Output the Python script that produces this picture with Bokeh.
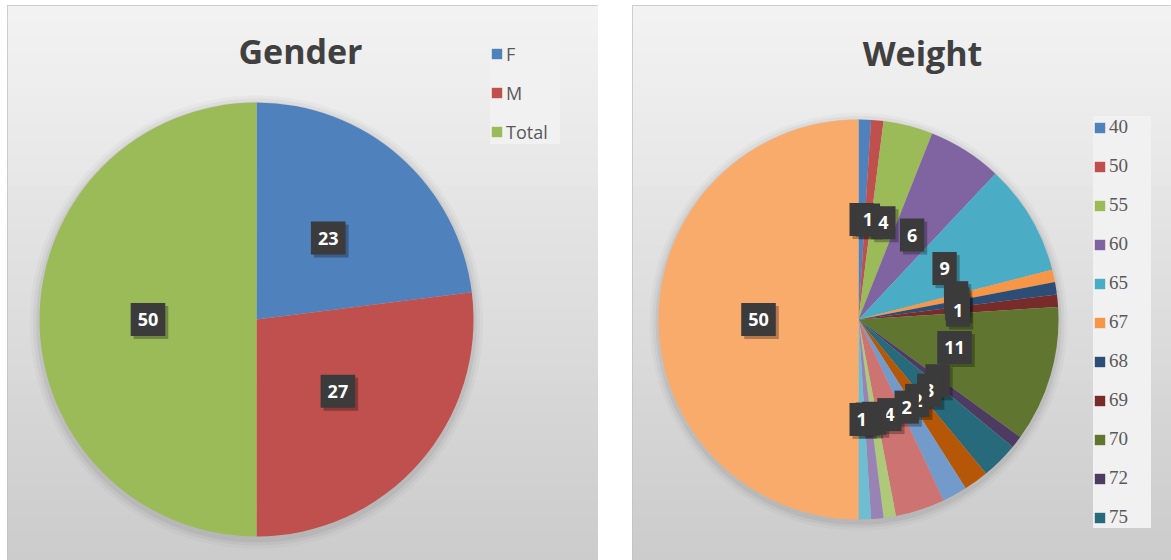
import numpy as np
from bokeh.plotting import figure
from bokeh.models import ColumnDataSource, Legend, LegendItem, Label, Range1d, BoxAnnotation
from bokeh.layouts import row
from bokeh.embed import file_html
from bokeh.resources import INLINE
from bokeh.core.properties import value

# ---------------- data ----------------
gender_labels = ["F", "M", "Total"]
gender_values = [23, 27, 50]
gender_colors = ["#4F81BD", "#C0504D", "#9BBB59"]

weight_labels = ["40", "50", "55", "60", "65", "67", "68", "69", "70", "72", "75",
                 "78", "80", "85", "90", "95", "100", "Total"]
weight_values = [1, 1, 4, 6, 9, 1, 1, 1, 11, 1, 3, 2, 2, 4, 1, 1, 1, 50]
weight_colors = ["#4F81BD", "#C0504D", "#9BBB59", "#8064A2", "#4BACC6", "#F79646",
                 "#2C4D75", "#772C2A", "#5F7530", "#4D3B62", "#276A7C", "#B65708",
                 "#729ACA", "#CD7371", "#AFC97A", "#9983B5", "#6FBDD1", "#F9AB6B"]
weight_legend_count = 11  # entries visible in the legend box

H = 555
TOP_GRAY = 243
BOTTOM_GRAY = 203


def pie_source(labels, vals, colors, label_r=0.5):
    v = np.array(vals, dtype=float)
    frac = v / v.sum()
    cum = np.cumsum(frac)
    start = np.pi / 2 - (cum - frac) * 2 * np.pi
    end = np.pi / 2 - cum * 2 * np.pi
    mid = (start + end) / 2
    return ColumnDataSource(dict(
        label=labels, value=vals, text=[str(x) for x in vals], color=colors,
        start=start, end=end,
        lx=label_r * np.cos(mid), ly=label_r * np.sin(mid)))


def add_gradient(p, height, n=37):
    step = height / n
    for k in range(n):
        t = (k + 0.5) / n
        g = int(round(TOP_GRAY + (BOTTOM_GRAY - TOP_GRAY) * t))
        col = "#%02x%02x%02x" % (g, g, g)
        p.add_layout(BoxAnnotation(top=height - k * step, bottom=height - (k + 1) * step - 1,
                                   top_units="screen", bottom_units="screen",
                                   fill_color=col, fill_alpha=1, line_color=None,
                                   level="underlay"))


def make_pie(width, cx, cy_top, radius, labels, vals, colors, title, title_xy,
             legend_n, legend_loc, legend_font, legend_size, label_h, spacing, label_w):
    xr = (-cx / radius, (width - cx) / radius)
    yr = (-(H - cy_top) / radius, cy_top / radius)
    p = figure(width=width, height=H, x_range=Range1d(*xr), y_range=Range1d(*yr),
               output_backend="svg", toolbar_location=None, min_border=0,
               x_axis_location=None, y_axis_location=None)
    p.grid.visible = False
    p.background_fill_color = "#e4e4e4"
    p.border_fill_color = "#e4e4e4"
    p.outline_line_color = "#c0c0c0"
    add_gradient(p, H)

    # soft shadow around the pie
    for rr, a in [(1.045, 0.025), (1.03, 0.035), (1.015, 0.05)]:
        p.circle(x=0, y=-0.012, radius=rr, fill_color="black", fill_alpha=a, line_color=None)

    src = pie_source(labels, vals, colors)
    r = p.wedge(x=0, y=0, radius=1, start_angle="start", end_angle="end",
                direction="clock", fill_color="color", line_color=None, source=src)

    pad = dict(left=7, right=7, top=10, bottom=10)
    # label shadows
    p.text(x="lx", y="ly", text="text", source=src, x_offset=3, y_offset=3,
           text_alpha=0, text_font=value("Open Sans"), text_font_style="bold",
           text_font_size="18px", text_align="center", text_baseline="middle",
           background_fill_color="black", background_fill_alpha=0.28, padding=pad)
    p.text(x="lx", y="ly", text="text", source=src,
           text_color="white", text_font=value("Open Sans"), text_font_style="bold",
           text_font_size="18px", text_align="center", text_baseline="middle",
           background_fill_color="#3b3b3b", padding=pad)

    p.add_layout(Label(x=title_xy[0], y=title_xy[1], x_units="screen", y_units="screen",
                       text=title, text_font="Open Sans", text_font_size="34px",
                       text_font_style="bold",
                       text_color="#404040", text_align="center",
                       text_baseline="middle"))

    items = [LegendItem(label=labels[i], renderers=[r], index=i) for i in range(legend_n)]
    lg = Legend(items=items, location=legend_loc, glyph_width=13, glyph_height=13,
                label_height=label_h, label_width=label_w, label_standoff=3,
                spacing=spacing, padding=12,
                margin=0, background_fill_color="#f1f1f1", background_fill_alpha=1,
                border_line_color=None, label_text_font=legend_font,
                label_text_font_size=legend_size, label_text_color="#595959")
    p.add_layout(lg)
    return p


left = make_pie(591, 249, 314, 217, gender_labels, gender_values, gender_colors,
                "Gender", (293, 510), 3, (483, 416), "Open Sans", "18px", 25, 14, 54)
right = make_pie(539, 226, 314, 200, weight_labels, weight_values, weight_colors,
                 "Weight", (290, 508), weight_legend_count, (461, 32),
                 "Liberation Serif", "19px", 22, 17, 42)

layout = row(left, right, spacing=34, margin=(5, 0, 0, 7))
open("out.html", "w").write(file_html(layout, INLINE))
